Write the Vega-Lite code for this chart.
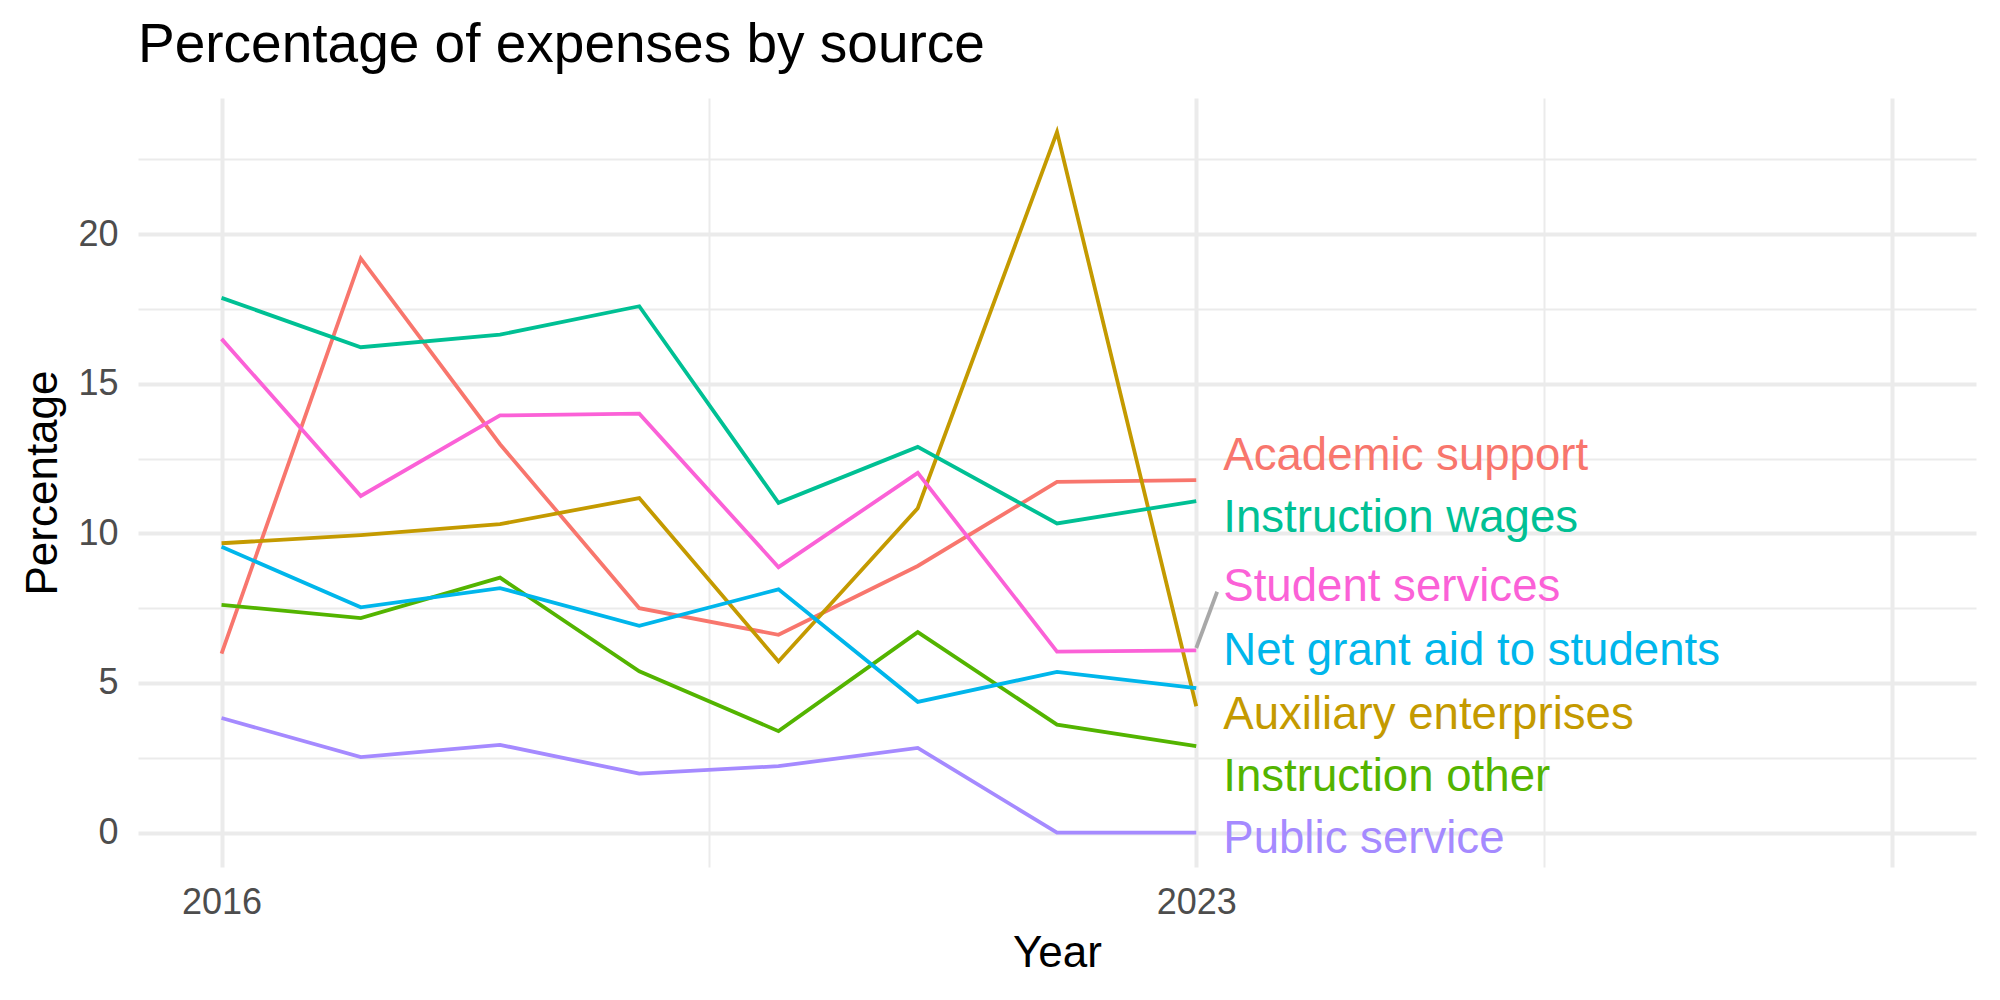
{
  "$schema": "https://vega.github.io/schema/vega-lite/v6.json",
  "autosize": {"type": "none"},
  "width": 1838,
  "height": 769,
  "padding": {"left": 138, "top": 98, "right": 24, "bottom": 133},
  "background": "white",
  "title": {
    "text": "Percentage of expenses by source",
    "anchor": "start",
    "frame": "group",
    "font": "Liberation Sans",
    "fontSize": 55,
    "fontWeight": "normal",
    "color": "black",
    "offset": 24
  },
  "config": {
    "view": {"stroke": null},
    "font": "Liberation Sans",
    "axis": {
      "domain": false,
      "ticks": false,
      "tickSize": 0,
      "gridColor": "#EBEBEB",
      "labelFont": "Liberation Sans",
      "titleFont": "Liberation Sans",
      "labelColor": "#4D4D4D",
      "titleColor": "black",
      "titleFontWeight": "normal",
      "labelFontSize": 36,
      "titleFontSize": 44
    }
  },
  "datasets": {
    "expenses": [
      {"series": "Academic support", "year": 2016, "value": 5.98},
      {"series": "Academic support", "year": 2017, "value": 19.19},
      {"series": "Academic support", "year": 2018, "value": 12.98},
      {"series": "Academic support", "year": 2019, "value": 7.5},
      {"series": "Academic support", "year": 2020, "value": 6.61},
      {"series": "Academic support", "year": 2021, "value": 8.91},
      {"series": "Academic support", "year": 2022, "value": 11.72},
      {"series": "Academic support", "year": 2023, "value": 11.78},
      {"series": "Auxiliary enterprises", "year": 2016, "value": 9.67},
      {"series": "Auxiliary enterprises", "year": 2017, "value": 9.94},
      {"series": "Auxiliary enterprises", "year": 2018, "value": 10.31},
      {"series": "Auxiliary enterprises", "year": 2019, "value": 11.18},
      {"series": "Auxiliary enterprises", "year": 2020, "value": 5.72},
      {"series": "Auxiliary enterprises", "year": 2021, "value": 10.84},
      {"series": "Auxiliary enterprises", "year": 2022, "value": 23.41},
      {"series": "Auxiliary enterprises", "year": 2023, "value": 4.22},
      {"series": "Instruction other", "year": 2016, "value": 7.61},
      {"series": "Instruction other", "year": 2017, "value": 7.17},
      {"series": "Instruction other", "year": 2018, "value": 8.52},
      {"series": "Instruction other", "year": 2019, "value": 5.39},
      {"series": "Instruction other", "year": 2020, "value": 3.39},
      {"series": "Instruction other", "year": 2021, "value": 6.7},
      {"series": "Instruction other", "year": 2022, "value": 3.61},
      {"series": "Instruction other", "year": 2023, "value": 2.89},
      {"series": "Instruction wages", "year": 2016, "value": 17.87},
      {"series": "Instruction wages", "year": 2017, "value": 16.22},
      {"series": "Instruction wages", "year": 2018, "value": 16.64},
      {"series": "Instruction wages", "year": 2019, "value": 17.59},
      {"series": "Instruction wages", "year": 2020, "value": 11.02},
      {"series": "Instruction wages", "year": 2021, "value": 12.89},
      {"series": "Instruction wages", "year": 2022, "value": 10.33},
      {"series": "Instruction wages", "year": 2023, "value": 11.08},
      {"series": "Net grant aid to students", "year": 2016, "value": 9.55},
      {"series": "Net grant aid to students", "year": 2017, "value": 7.53},
      {"series": "Net grant aid to students", "year": 2018, "value": 8.17},
      {"series": "Net grant aid to students", "year": 2019, "value": 6.91},
      {"series": "Net grant aid to students", "year": 2020, "value": 8.13},
      {"series": "Net grant aid to students", "year": 2021, "value": 4.37},
      {"series": "Net grant aid to students", "year": 2022, "value": 5.37},
      {"series": "Net grant aid to students", "year": 2023, "value": 4.83},
      {"series": "Public service", "year": 2016, "value": 3.83},
      {"series": "Public service", "year": 2017, "value": 2.52},
      {"series": "Public service", "year": 2018, "value": 2.93},
      {"series": "Public service", "year": 2019, "value": 1.97},
      {"series": "Public service", "year": 2020, "value": 2.22},
      {"series": "Public service", "year": 2021, "value": 2.83},
      {"series": "Public service", "year": 2022, "value": 0},
      {"series": "Public service", "year": 2023, "value": 0},
      {"series": "Student services", "year": 2016, "value": 16.5},
      {"series": "Student services", "year": 2017, "value": 11.25},
      {"series": "Student services", "year": 2018, "value": 13.94},
      {"series": "Student services", "year": 2019, "value": 14.0},
      {"series": "Student services", "year": 2020, "value": 8.87},
      {"series": "Student services", "year": 2021, "value": 12.02},
      {"series": "Student services", "year": 2022, "value": 6.05},
      {"series": "Student services", "year": 2023, "value": 6.09}
    ],
    "labels": [
      {"series": "Academic support", "year": 2023, "label_value": 12.6},
      {"series": "Instruction wages", "year": 2023, "label_value": 10.52},
      {"series": "Student services", "year": 2023, "label_value": 8.22},
      {"series": "Net grant aid to students", "year": 2023, "label_value": 6.08},
      {"series": "Auxiliary enterprises", "year": 2023, "label_value": 3.94},
      {"series": "Instruction other", "year": 2023, "label_value": 1.86},
      {"series": "Public service", "year": 2023, "label_value": -0.21}
    ],
    "segment": [
      {"series": "Student services", "year": 2023, "value": 6.17, "year_end": 2023.15, "value_end": 8.05}
    ]
  },
  "layer": [
    {
      "data": {"name": "labels"},
      "mark": {"type": "point", "opacity": 0},
      "encoding": {
        "x": {
          "field": "year", "type": "quantitative",
          "scale": {"domain": [2015.4, 2028.6], "nice": false, "zero": false},
          "axis": {
            "orient": "bottom", "values": [2016, 2023, 2028], "labelExpr": "datum.value == 2028 ? '' : datum.label",
            "format": "d", "grid": true, "gridWidth": 4, "labelPadding": 18, "title": "Year", "titlePadding": 11,
            "labelFlush": false, "labelOverlap": false
          }
        },
        "y": {
          "field": "label_value", "type": "quantitative",
          "scale": {"domain": [-1.15, 24.55], "nice": false, "zero": false},
          "axis": {
            "orient": "left", "values": [0, 5, 10, 15, 20], "grid": true, "gridWidth": 4, "labelPadding": 20,
            "title": "Percentage", "titlePadding": 12, "labelFlush": false, "labelOverlap": false
          }
        }
      }
    },
    {
      "data": {"name": "labels"},
      "mark": {"type": "point", "opacity": 0},
      "encoding": {
        "x": {
          "field": "year", "type": "quantitative",
          "axis": {"orient": "top", "values": [2019.5, 2025.5], "grid": true, "gridWidth": 2, "labels": false, "title": null, "minExtent": 0, "maxExtent": 0, "labelPadding": 0}
        },
        "y": {
          "field": "label_value", "type": "quantitative",
          "axis": {"orient": "right", "values": [2.5, 7.5, 12.5, 17.5, 22.5], "grid": true, "gridWidth": 2, "labels": false, "title": null, "minExtent": 0, "maxExtent": 0, "labelPadding": 0}
        }
      }
    },
    {
      "data": {"name": "expenses"},
      "mark": {"type": "line", "strokeWidth": 3.8},
      "encoding": {
        "x": {"field": "year", "type": "quantitative", "axis": null},
        "y": {"field": "value", "type": "quantitative", "axis": null},
        "color": {
          "field": "series", "type": "nominal", "legend": null,
          "scale": {
            "domain": ["Academic support", "Auxiliary enterprises", "Instruction other", "Instruction wages", "Net grant aid to students", "Public service", "Student services"],
            "range": ["#F8766D", "#C49A00", "#53B400", "#00C094", "#00B6EB", "#A58AFF", "#FB61D7"]
          }
        }
      }
    },
    {
      "data": {"name": "segment"},
      "mark": {"type": "rule", "color": "#A8A8A8", "strokeWidth": 3.8},
      "encoding": {
        "x": {"field": "year", "type": "quantitative", "axis": null},
        "y": {"field": "value", "type": "quantitative", "axis": null},
        "x2": {"field": "year_end"},
        "y2": {"field": "value_end"}
      }
    },
    {
      "data": {"name": "labels"},
      "mark": {"type": "text", "align": "left", "baseline": "middle", "dx": 27, "fontSize": 45.6, "font": "Liberation Sans"},
      "encoding": {
        "x": {"field": "year", "type": "quantitative", "axis": null},
        "y": {"field": "label_value", "type": "quantitative", "axis": null},
        "text": {"field": "series", "type": "nominal"},
        "color": {"field": "series", "type": "nominal", "legend": null}
      }
    }
  ],
  "resolve": {"axis": {"x": "independent", "y": "independent"}}
}
